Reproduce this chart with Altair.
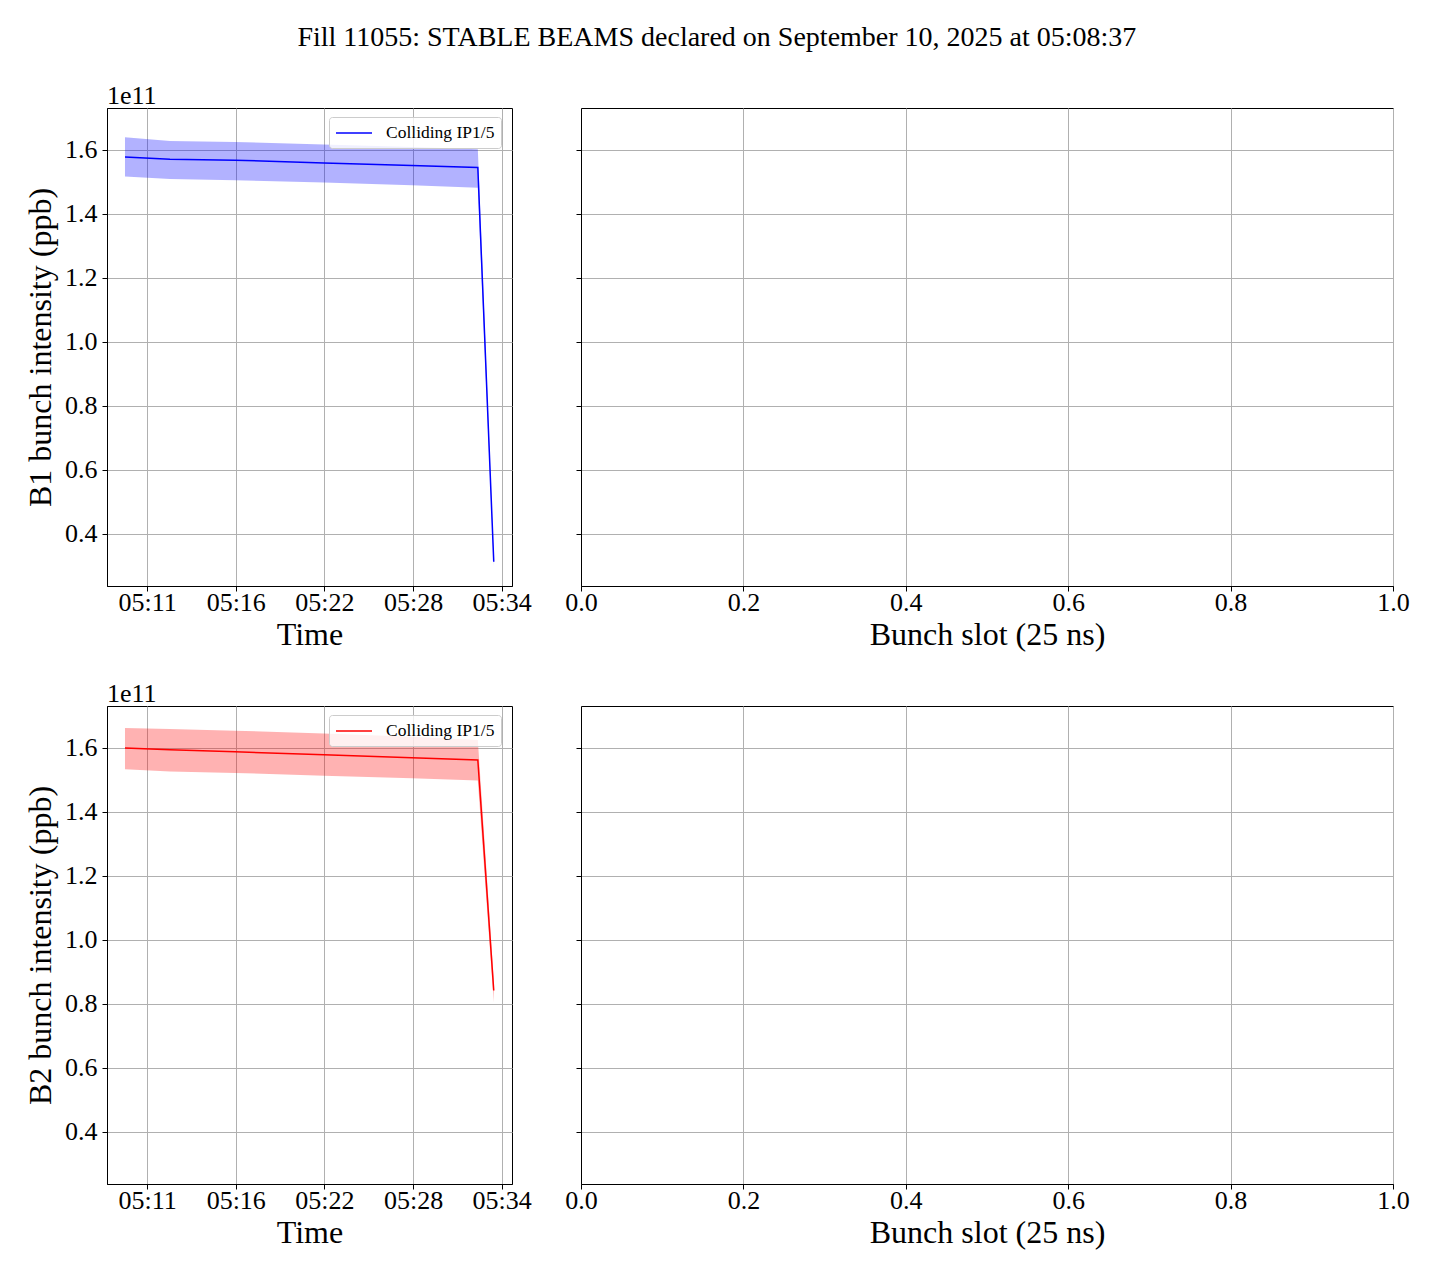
import altair as alt
import pandas as pd

FONT = "Liberation Serif"

title_text = "Fill 11055: STABLE BEAMS declared on September 10, 2025 at 05:08:37"
series_label = "Colliding IP1/5"

# sample times (local clock)
times = ["2025-09-10T05:09:34", "2025-09-10T05:12:29", "2025-09-10T05:16:42",
         "2025-09-10T05:22:28", "2025-09-10T05:28:10", "2025-09-10T05:32:27",
         "2025-09-10T05:33:29"]

# Beam 1 bunch intensity (units of 1e11 ppb)
b1_mean = [1.578, 1.571, 1.568, 1.559, 1.551, 1.545, 0.313]
b1_hi = [1.640, 1.628, 1.625, 1.617, 1.609, 1.602, 0.325]
b1_lo = [1.517, 1.509, 1.505, 1.498, 1.490, 1.482, 0.300]

# Beam 2 bunch intensity (units of 1e11 ppb)
b2_mean = [1.600, 1.594, 1.588, 1.579, 1.569, 1.5625, 0.842]
b2_hi = [1.6625, 1.659, 1.654, 1.645, 1.635, 1.625, 0.875]
b2_lo = [1.533, 1.526, 1.522, 1.513, 1.505, 1.498, 0.805]

time_ticks = [(5, 11, 0), (5, 16, 45), (5, 22, 30), (5, 28, 15), (5, 34, 0)]
time_domain = [(5, 8, 24), (5, 34, 40)]
y_ticks = [0.4, 0.6, 0.8, 1.0, 1.2, 1.4, 1.6]
y_domain = [0.2375, 1.731]
slot_ticks = [0.0, 0.2, 0.4, 0.6, 0.8, 1.0]
slot_domain = [0.0, 1.0]


def dt(h, m, s):
    return alt.DateTime(year=2025, month=9, date=10, hours=h, minutes=m, seconds=s)


def time_panel(mean, lo, hi, color, beam):
    df = pd.DataFrame({"t": times, "mean": mean, "lo": lo, "hi": hi,
                       "series": [series_label] * len(times)})
    xenc = alt.X("t:T",
                 scale=alt.Scale(domain=[dt(*d) for d in time_domain]),
                 axis=alt.Axis(values=[dt(*v) for v in time_ticks], format="%H:%M",
                               title="Time", grid=True, titlePadding=4, labelPadding=-2))
    yscale = alt.Scale(domain=y_domain, nice=False, zero=False)
    yaxis = alt.Axis(values=y_ticks, format=".1f", title=f"{beam} bunch intensity (ppb)",
                     grid=True, titlePadding=7, labelPadding=5)
    band = alt.Chart(df).mark_area(color=color, opacity=0.3, line=False).encode(
        x=xenc,
        y=alt.Y("lo:Q", scale=yscale, axis=yaxis),
        y2="hi:Q",
    )
    line = alt.Chart(df).mark_line(strokeWidth=1.5).encode(
        x=xenc,
        y=alt.Y("mean:Q", scale=yscale, axis=yaxis),
        color=alt.Color("series:N",
                        scale=alt.Scale(domain=[series_label], range=[color]),
                        legend=alt.Legend(title=None, orient="none",
                                          legendX=222, legendY=9)),
    )
    return alt.layer(band, line).properties(
        width=405, height=478,
        title=alt.TitleParams("1e11", anchor="start", frame="group", fontSize=26,
                              font=FONT, fontWeight="normal", offset=-1),
    )


def slot_panel():
    empty = alt.Data(values=[])
    return alt.Chart(empty).mark_point(opacity=0).encode(
        x=alt.X("slot:Q", scale=alt.Scale(domain=slot_domain, nice=False),
                axis=alt.Axis(values=slot_ticks, format=".1f", title="Bunch slot (25 ns)",
                              grid=True, titlePadding=4, labelPadding=-2)),
        y=alt.Y("v:Q", scale=alt.Scale(domain=y_domain, nice=False, zero=False),
                axis=alt.Axis(values=y_ticks, labels=False, title=None, grid=True)),
    ).properties(width=812, height=478)


row1 = alt.hconcat(time_panel(b1_mean, b1_lo, b1_hi, "#0000ff", "B1"), slot_panel(),
                   spacing=32)
row2 = alt.hconcat(time_panel(b2_mean, b2_lo, b2_hi, "#ff0000", "B2"), slot_panel(),
                   spacing=32)

chart = alt.vconcat(row1, row2, spacing=29).resolve_scale(
    color="independent"
).properties(
    title=alt.TitleParams(title_text, fontSize=28, font=FONT, fontWeight="normal",
                          anchor="middle", color="black", offset=31),
    padding={"left": 16, "top": 15, "right": 5, "bottom": 5},
).configure_axis(
    labelFont=FONT, titleFont=FONT, labelFontSize=26, titleFontSize=32,
    titleFontWeight="normal", labelColor="black", titleColor="black",
    domainColor="black", tickColor="black", gridColor="#b0b0b0", gridWidth=1,
    tickSize=5, labelPadding=2, labelFlush=False, domainWidth=1,
).configure_view(
    stroke="black", strokeWidth=1,
).configure_legend(
    labelFont=FONT, labelFontSize=17.5, labelColor="black",
    fillColor="rgba(255,255,255,0.8)", strokeColor="#cccccc", cornerRadius=3,
    padding=6, symbolType="M-1,0H3", symbolSize=324,
    symbolStrokeWidth=1.5, labelOffset=31,
).configure_title(color="black")

chart.save("out.html", embed_options={"renderer": "svg", "actions": False})
